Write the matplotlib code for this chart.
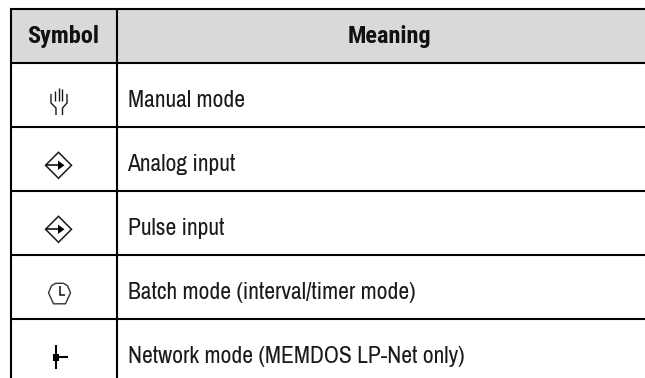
import matplotlib
matplotlib.use("Agg")
import matplotlib.pyplot as plt
from matplotlib.patches import Rectangle, Polygon

W, H = 645, 378
FONT = ["Archivo Narrow", "Roboto Condensed", "Liberation Sans", "DejaVu Sans"]
BOLD = ["Roboto Condensed", "PT Sans Narrow", "Liberation Sans", "DejaVu Sans"]

headers = ["Symbol", "Meaning"]
meanings = [
    "Manual mode",
    "Analog input",
    "Pulse input",
    "Batch mode (interval/timer mode)",
    "Network mode (MEMDOS LP-Net only)",
]
row_lines = [9, 62.5, 126.5, 190.5, 255, 319]
text_y = [100.5, 164.5, 228.5, 292.5, 356.5]

fig = plt.figure(figsize=(W / 100, H / 100), dpi=100)
ax = fig.add_axes([0, 0, 1, 1])
ax.set_xlim(0, W)
ax.set_ylim(H, 0)
ax.axis("off")

LW = 1.5
ax.add_patch(Rectangle((10, 9), W - 10, 53.5, fc="#d9d9d9", ec="none", zorder=0))
for y in row_lines:
    ax.plot([9.5, W], [y, y], color="black", lw=LW, solid_capstyle="butt", zorder=3)
for x in (10.5, 117):
    ax.plot([x, x], [8.5, H], color="black", lw=LW, solid_capstyle="butt", zorder=3)

ax.text(63.5, 36, headers[0], ha="center", va="center", family=BOLD, fontsize=17.5, fontweight="bold", color="#111111")
ax.text(389, 36, headers[1], ha="center", va="center", family=BOLD, fontsize=17.5, fontweight="bold", color="#111111")
for y, t in zip(text_y, meanings):
    ax.text(127.5, y, t, ha="left", va="center", family=FONT, fontsize=17, color="#1a1a1a")

ik = dict(color="#1a1a1a", lw=1.0, solid_capstyle="butt", solid_joinstyle="miter", zorder=4)

# hand
for x, y0 in ((55, 91), (58.5, 88), (62, 89)):
    ax.plot([x, x], [y0, 101], **ik)
ax.plot([51, 51, 56, 56], [94, 103, 108, 115], **ik)
ax.plot([67, 67, 62.5, 62.5], [94, 103, 108, 115], **ik)

# diamonds with arrow
for cy in (165.3, 229.3):
    ax.add_patch(Polygon([(58.5, cy - 13), (71.5, cy), (58.5, cy + 13), (45.5, cy)],
                         closed=True, fc="white", ec="#1a1a1a", lw=1.1, zorder=4))
    ax.plot([45.5, 59], [cy, cy], color="black", lw=1.1, solid_capstyle="butt", zorder=5)
    ax.add_patch(Polygon([(64.5, cy), (58, cy - 4.7), (58, cy + 4.7)], closed=True, fc="black", ec="none", zorder=5))

# clock
cx, cy = 59.5, 293.8
pts = [(-4, -10.5), (4, -10.5), (8, -8), (11, -1), (6, 10), (-6, 10), (-11, -1), (-8, -8)]
ax.add_patch(Polygon([(cx + a, cy + b) for a, b in pts], closed=True, fc="white", ec="#333333", lw=1.0, zorder=4))
ax.plot([cx, cx, cx + 5], [cy - 8, cy + 1, cy + 1], color="#111111", lw=1.1, solid_joinstyle="miter", solid_capstyle="butt", zorder=5)

# network
ax.plot([56, 56], [345, 369], color="black", lw=1.5, solid_capstyle="butt", zorder=4)
ax.plot([56, 68], [357, 357], color="black", lw=1.5, solid_capstyle="butt", zorder=4)
ax.add_patch(Rectangle((53, 354), 6, 7, fc="black", ec="none", zorder=4))

fig.savefig("out.png", dpi=100, facecolor="white")
